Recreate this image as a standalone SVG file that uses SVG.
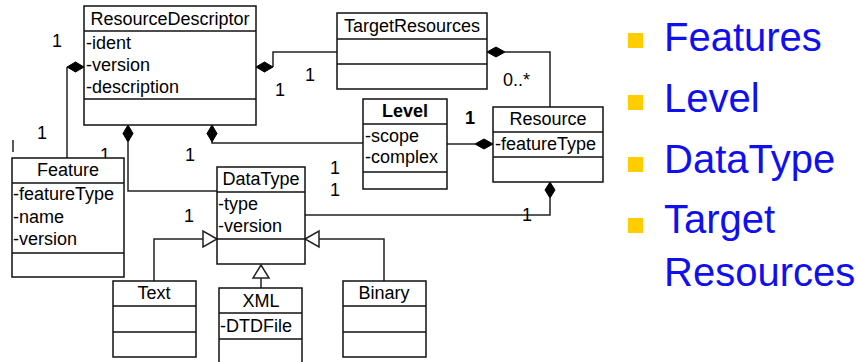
<svg xmlns="http://www.w3.org/2000/svg" width="856" height="362" viewBox="0 0 856 362">
<style>
.box{fill:#fff;stroke:#111;stroke-width:1.5}
.div{stroke:#111;stroke-width:1.5}
.t{font-family:"Liberation Sans",Arial,sans-serif;font-size:18px;fill:#000}
.c{text-anchor:middle}
.b{font-weight:bold}
.ln{fill:none;stroke:#222;stroke-width:1.5}
.dia{fill:#000;stroke:#000;stroke-width:1}
.tri{fill:#fff;stroke:#222;stroke-width:1.5}
.bl{font-family:"Liberation Sans",Arial,sans-serif;font-size:40px;fill:#1010ee}
.sq{fill:#ffcc00}
</style>
<rect width="856" height="362" fill="#fff"/>
<g id="connectors">
<polyline class="ln" points="67,67 67,158"/>
<polyline class="ln" points="273,67 273,52 337,52"/>
<polyline class="ln" points="128,142 128,191 217,191"/>
<polyline class="ln" points="212,142 212,143 363,143"/>
<polyline class="ln" points="447,144 475,144"/>
<polyline class="ln" points="505,52 550,52 550,107"/>
<polyline class="ln" points="305,215 550,215 550,198"/>
<polyline class="ln" points="154,281 154,239 203,239"/>
<polyline class="ln" points="384,281 384,239 319,239"/>
<polyline class="ln" points="261,278 261,288"/>
<polygon class="dia" points="84,67 75.5,62 67,67 75.5,72"/>
<polygon class="dia" points="256,67 264.5,62 273,67 264.5,72"/>
<polygon class="dia" points="128,125 123,133.5 128,142 133,133.5"/>
<polygon class="dia" points="212,125 207,133.5 212,142 217,133.5"/>
<polygon class="dia" points="493,144 484,139 475,144 484,149"/>
<polygon class="dia" points="487,52 496,47 505,52 496,57"/>
<polygon class="dia" points="550,182 545,190 550,198 555,190"/>
<polygon class="tri" points="217,239 203,231 203,247"/>
<polygon class="tri" points="305,239 319,231 319,247"/>
<polygon class="tri" points="261,265 253,278 269,278"/>
<line x1="13" y1="140" x2="13" y2="152" stroke="#222" stroke-width="1.5"/>
<text class="t" x="57" y="47" text-anchor="middle">1</text>
<text class="t" x="42" y="139" text-anchor="middle">1</text>
<text class="t" x="105" y="161" text-anchor="middle">1</text>
<text class="t" x="190" y="161" text-anchor="middle">1</text>
<text class="t" x="189" y="222" text-anchor="middle">1</text>
<text class="t" x="310" y="81" text-anchor="middle">1</text>
<text class="t" x="280" y="96" text-anchor="middle">1</text>
<text class="t" x="335" y="174" text-anchor="middle">1</text>
<text class="t" x="335" y="196" text-anchor="middle">1</text>
<text class="t b" x="470" y="124" text-anchor="middle">1</text>
<text class="t" x="527" y="221" text-anchor="middle">1</text>
<text class="t" x="503" y="86">0..*</text>
</g>
<g id="ResourceDescriptor">
<rect class="box" x="84" y="6" width="172" height="119"/>
<line class="div" x1="84" y1="31" x2="256" y2="31"/>
<line class="div" x1="84" y1="99" x2="256" y2="99"/>
<text class="t c" x="170" y="25">ResourceDescriptor</text>
<text class="t" x="86" y="49">-ident</text>
<text class="t" x="86" y="71">-version</text>
<text class="t" x="86" y="93">-description</text>
</g>
<g id="TargetResources">
<rect class="box" x="337" y="13" width="150" height="76"/>
<line class="div" x1="337" y1="39" x2="487" y2="39"/>
<line class="div" x1="337" y1="64" x2="487" y2="64"/>
<text class="t c" x="412" y="32">TargetResources</text>
</g>
<g id="Level">
<rect class="box" x="363" y="99" width="84" height="90"/>
<line class="div" x1="363" y1="124" x2="447" y2="124"/>
<line class="div" x1="363" y1="172" x2="447" y2="172"/>
<text class="t c b" x="405" y="117">Level</text>
<text class="t" x="365" y="142">-scope</text>
<text class="t" x="365" y="163">-complex</text>
</g>
<g id="Resource">
<rect class="box" x="493" y="107" width="110" height="75"/>
<line class="div" x1="493" y1="132" x2="603" y2="132"/>
<line class="div" x1="493" y1="157" x2="603" y2="157"/>
<text class="t c" x="548" y="125">Resource</text>
<text class="t" x="495" y="150">-featureType</text>
</g>
<g id="Feature">
<rect class="box" x="12" y="158" width="112" height="119"/>
<line class="div" x1="12" y1="183" x2="124" y2="183"/>
<line class="div" x1="12" y1="253" x2="124" y2="253"/>
<text class="t c" x="68" y="176">Feature</text>
<text class="t" x="13" y="200">-featureType</text>
<text class="t" x="13" y="223">-name</text>
<text class="t" x="13" y="245">-version</text>
</g>
<g id="DataType">
<rect class="box" x="217" y="167" width="88" height="97"/>
<line class="div" x1="217" y1="192" x2="305" y2="192"/>
<line class="div" x1="217" y1="239" x2="305" y2="239"/>
<text class="t c" x="261" y="185">DataType</text>
<text class="t" x="218" y="210">-type</text>
<text class="t" x="218" y="232">-version</text>
</g>
<g id="Text">
<rect class="box" x="113" y="281" width="83" height="76"/>
<line class="div" x1="113" y1="306" x2="196" y2="306"/>
<line class="div" x1="113" y1="332" x2="196" y2="332"/>
<text class="t c" x="154" y="299">Text</text>
</g>
<g id="XML">
<rect class="box" x="219" y="288" width="83" height="80"/>
<line class="div" x1="219" y1="313" x2="302" y2="313"/>
<line class="div" x1="219" y1="339" x2="302" y2="339"/>
<text class="t c" x="261" y="307">XML</text>
<text class="t" x="220" y="332">-DTDFile</text>
</g>
<g id="Binary">
<rect class="box" x="343" y="281" width="83" height="76"/>
<line class="div" x1="343" y1="306" x2="426" y2="306"/>
<line class="div" x1="343" y1="332" x2="426" y2="332"/>
<text class="t c" x="384" y="299">Binary</text>
</g>
<g id="bullets">
<rect class="sq" x="628" y="33" width="15" height="15"/>
<rect class="sq" x="628" y="95" width="15" height="15"/>
<rect class="sq" x="628" y="157" width="15" height="15"/>
<rect class="sq" x="628" y="218" width="15" height="15"/>
<text class="bl" x="664" y="51">Features</text>
<text class="bl" x="664" y="112">Level</text>
<text class="bl" x="664" y="173">DataType</text>
<text class="bl" x="664" y="233">Target</text>
<text class="bl" x="664" y="286">Resources</text>
</g>
</svg>
